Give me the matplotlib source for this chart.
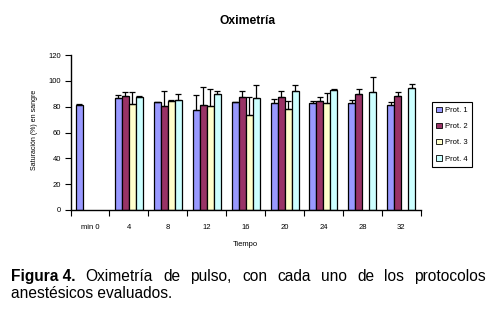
import numpy as np
import matplotlib
matplotlib.use("Agg")
import matplotlib.pyplot as plt
from matplotlib.patches import Patch

plt.rcParams['font.family'] = ['Liberation Sans', 'DejaVu Sans']

categories = ["min 0", "4", "8", "12", "16", "20", "24", "28", "32"]
series = ["Prot. 1", "Prot. 2", "Prot. 3", "Prot. 4"]
colors = ["#9999FF", "#993366", "#FFFFCC", "#CCFFFF"]

nan = np.nan
prot1 = [81.0, 86.4, 83.5, 77.1, 83.5, 82.5, 82.5, 82.5, 81.0]
err1 = [0.7, 2.3, 0.5, 11.6, 0.5, 3.1, 1.6, 2.3, 2.3]
prot2 = [nan, 87.9, 80.2, 81.0, 87.1, 87.1, 84.1, 89.5, 87.9]
err2 = [nan, 3.1, 11.6, 13.9, 5.2, 5.2, 3.0, 3.8, 3.1]
prot3 = [nan, 81.7, 84.3, 80.2, 73.2, 77.9, 82.5, nan, nan]
err3 = [nan, 9.8, 0.5, 13.1, 14.4, 6.7, 7.7, nan, nan]
prot4 = [nan, 87.4, 84.8, 89.5, 86.4, 91.8, 92.8, 91.0, 94.1]
err4 = [nan, 0.6, 4.9, 2.3, 10.0, 4.6, 0.5, 11.6, 3.1]

values = [prot1, prot2, prot3, prot4]
errors = [err1, err2, err3, err4]

W, H = 495, 312
fig = plt.figure(figsize=(W / 100, H / 100), dpi=100)
ax = fig.add_axes([70.5 / W, 1 - 210 / H, (420.7 - 70.5) / W, (210 - 55) / H])

x = np.arange(len(categories))
bw = 0.18
for i, (vals, errs) in enumerate(zip(values, errors)):
    v = np.array(vals, dtype=float)
    e = np.array(errs, dtype=float)
    m = np.isfinite(v)
    xs = x[m] + (i - 1.5) * bw
    ax.bar(xs, v[m], width=bw, color=colors[i], edgecolor='black',
           linewidth=0.9, zorder=2)
    ax.errorbar(xs, v[m], yerr=[np.zeros(m.sum()), e[m]], fmt='none',
                ecolor='black', elinewidth=0.9, capsize=2.5, capthick=0.9,
                zorder=3)

ax.set_xlim(-0.5, len(categories) - 0.5)
ax.set_ylim(0, 120)
ax.set_yticks(np.arange(0, 121, 20))
ax.tick_params(axis='y', direction='out', length=4, width=0.8,
               labelsize=5.5, pad=3, colors='black')
ax.set_xticks(np.arange(-0.5, len(categories), 1))
ax.set_xticklabels([])
ax.tick_params(axis='x', which='major', direction='out', length=4, width=0.8)
ax.set_xticks(x, minor=True)
ax.set_xticklabels(categories, minor=True)
ax.tick_params(axis='x', which='minor', length=0, labelsize=5.5, pad=10)

for s in ['top', 'right']:
    ax.spines[s].set_visible(False)
for s in ['left', 'bottom']:
    ax.spines[s].set_linewidth(1.0)
    ax.spines[s].set_color('black')

fig.text(35 / W, 1 - 130 / H, "Saturación (%) en sangre", rotation=90,
         ha='center', va='center', fontsize=5.0)
fig.text(245 / W, 1 - 244 / H, "Tiempo", ha='center', va='center',
         fontsize=5.5)
fig.text(248 / W, 1 - 24.5 / H, "Oximetría", ha='center', va='baseline',
         fontsize=8.7, weight='bold')

handles = [Patch(facecolor=c, edgecolor='black', linewidth=0.6) for c in colors]
leg = ax.legend(handles, series, loc='upper left',
                bbox_to_anchor=(431.7 / W, 1 - 102.3 / H),
                bbox_transform=fig.transFigure, frameon=True, fancybox=False,
                edgecolor='black', framealpha=1, fontsize=5.5,
                handlelength=0.7, handleheight=0.7, handletextpad=0.4,
                labelspacing=1.15, borderpad=0.6, borderaxespad=0)
leg.get_frame().set_linewidth(0.8)

# Caption (justified first line)
cap_fs = 11.2
words = [("Figura 4.", 'bold'), ("Oximetría", 'normal'), ("de", 'normal'),
         ("pulso,", 'normal'), ("con", 'normal'), ("cada", 'normal'),
         ("uno", 'normal'), ("de", 'normal'), ("los", 'normal'),
         ("protocolos", 'normal')]
renderer = fig.canvas.get_renderer()
texts = [fig.text(0, 1 - 281 / H, w, fontsize=cap_fs, weight=wt,
                  va='baseline', ha='left') for w, wt in words]
widths = [t.get_window_extent(renderer).width for t in texts]
left_px, right_px = 11, 486
gap = (right_px - left_px - sum(widths)) / (len(words) - 1)
xp = left_px
for t, wd in zip(texts, widths):
    t.set_x(xp / W)
    xp += wd + gap
fig.text(left_px / W, 1 - 298 / H, "anestésicos evaluados.", fontsize=cap_fs,
         va='baseline', ha='left')

fig.savefig('out.png', dpi=100)
